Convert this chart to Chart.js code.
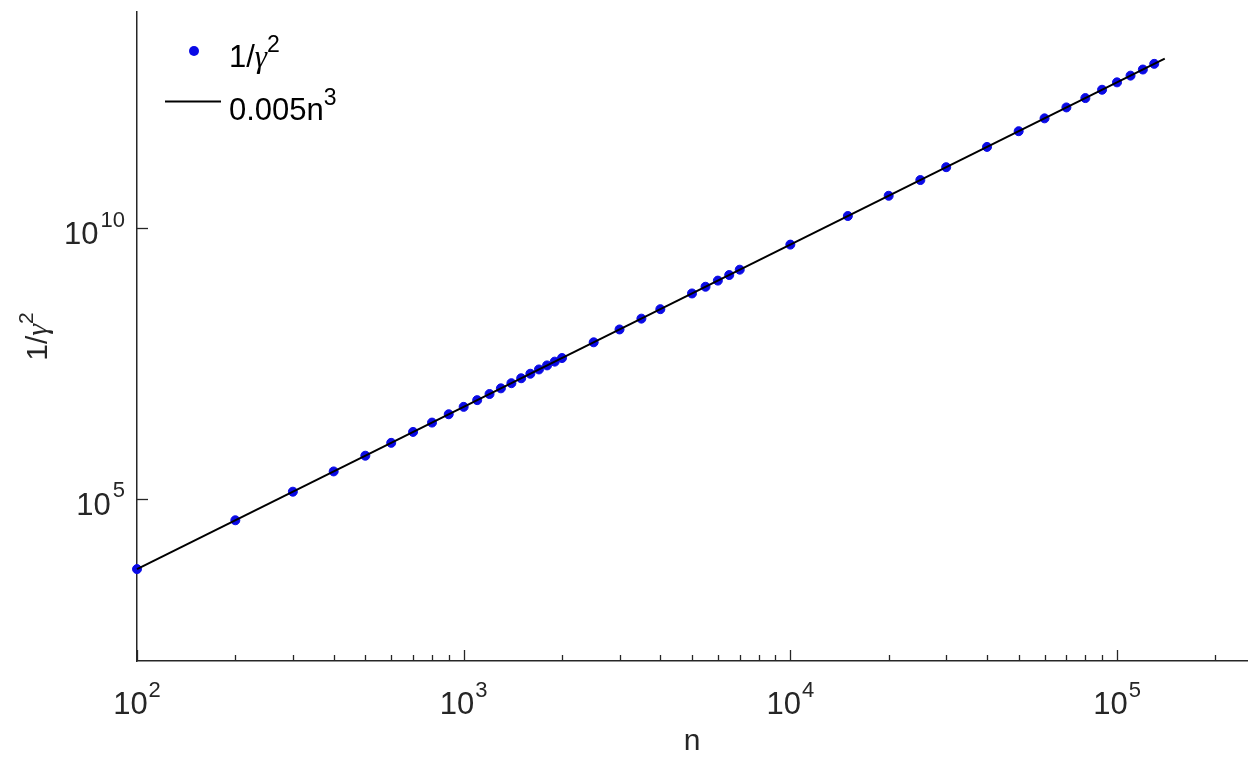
<!DOCTYPE html>
<html>
<head>
<meta charset="utf-8">
<script src="https://cdn.jsdelivr.net/npm/chart.js@4"></script>
<style>
  html, body { margin: 0; padding: 0; background: #ffffff; }
  canvas { display: block; }
</style>
</head>
<body>
<canvas id="c" width="1255" height="760"></canvas>
<script>
// ---- data ----
const nValues = [100, 200, 300, 400, 500, 600, 700, 800, 900, 1000,
  1100, 1200, 1300, 1400, 1500, 1600, 1700, 1800, 1900, 2000,
  2500, 3000, 3500, 4000, 5000, 5500, 6000, 6500, 7000, 10000,
  15000, 20000, 25000, 30000, 40000, 50000, 60000, 70000, 80000, 90000,
  100000, 110000, 120000, 130000];
const invGamma2 = [5.0e3, 4.0e4, 1.35e5, 3.2e5, 6.25e5, 1.08e6, 1.72e6, 2.56e6, 3.65e6, 5.0e6,
  6.66e6, 8.64e6, 1.10e7, 1.37e7, 1.69e7, 2.05e7, 2.46e7, 2.92e7, 3.43e7, 4.0e7,
  7.81e7, 1.35e8, 2.14e8, 3.2e8, 6.25e8, 8.32e8, 1.08e9, 1.37e9, 1.72e9, 5.0e9,
  1.69e10, 4.0e10, 7.81e10, 1.35e11, 3.2e11, 6.25e11, 1.08e12, 1.72e12, 2.56e12, 3.65e12,
  5.0e12, 6.66e12, 8.64e12, 1.10e13];
const fitN = [100, 140000];
const fitY = [5.0e3, 1.372e13];

const xTickValues = [1e2, 1e3, 1e4, 1e5];
const xTickExp = ['2', '3', '4', '5'];
const yTickValues = [1e5, 1e10];
const yTickExp = ['5', '10'];
const xAxisTitle = 'n';
const seriesLabel1 = ['1/', 'γ', '2'];
const seriesLabel2 = ['0.005n', '', '3'];

const TEXT = '#262626';
const FONT = '"Liberation Sans", Arial, Helvetica, sans-serif';
const GREEK = 'italic "Liberation Serif", "DejaVu Serif", serif';

// draw [base, greek, sup] pieces
function drawRich(ctx, parts, x, y, align, bSize, sSize, rise, gap) {
  const pieces = [
    { t: parts[0], f: bSize + 'px ' + FONT, dy: 0, g: 0 },
    { t: parts[1], f: GREEK.replace('italic', 'italic ' + bSize + 'px'), dy: 0, g: 0 },
    { t: parts[2], f: sSize + 'px ' + FONT, dy: -rise, g: gap || 0 }
  ].filter(p => p.t);
  let total = 0;
  pieces.forEach(p => { ctx.font = p.f; p.w = ctx.measureText(p.t).width; total += p.w + p.g; });
  let x0 = x;
  if (align === 'center') x0 = x - total / 2;
  else if (align === 'right') x0 = x - total;
  ctx.textAlign = 'left';
  ctx.textBaseline = 'alphabetic';
  pieces.forEach(p => { x0 += p.g; ctx.font = p.f; ctx.fillText(p.t, x0, y + p.dy); x0 += p.w; });
}

const decor = {
  id: 'decor',
  afterDraw(chart) {
    const ctx = chart.ctx;
    const xs = chart.scales.x, ys = chart.scales.y;
    const area = chart.chartArea;
    ctx.save();
    ctx.strokeStyle = TEXT;
    ctx.fillStyle = TEXT;
    ctx.lineWidth = 1.3;
    // x ticks (inward), major and minor
    for (let e = 2; e <= 5; e++) {
      for (let m = 1; m <= 9; m++) {
        const v = m * Math.pow(10, e);
        if (v > xs.max) continue;
        const px = Math.round(xs.getPixelForValue(v)) + 0.5;
        const len = m === 1 ? 11 : 6;
        ctx.beginPath();
        ctx.moveTo(px, area.bottom);
        ctx.lineTo(px, area.bottom - len);
        ctx.stroke();
      }
    }
    // y ticks (inward)
    yTickValues.forEach(v => {
      const py = Math.round(ys.getPixelForValue(v)) + 0.5;
      ctx.beginPath();
      ctx.moveTo(area.left, py);
      ctx.lineTo(area.left + 11, py);
      ctx.stroke();
    });
    // x tick labels
    xTickValues.forEach((v, i) => {
      const px = xs.getPixelForValue(v);
      drawRich(ctx, ['10', '', xTickExp[i]], px, area.bottom + 53, 'center', 31, 22, 17.5, 1);
    });
    // y tick labels
    yTickValues.forEach((v, i) => {
      const py = ys.getPixelForValue(v);
      drawRich(ctx, ['10', '', yTickExp[i]], area.left - 12, py + 16, 'right', 31, 22, 17.5, 2);
    });
    // x axis label
    ctx.font = '30px ' + FONT;
    ctx.textAlign = 'center';
    ctx.textBaseline = 'alphabetic';
    ctx.fillText(xAxisTitle, (area.left + area.right) / 2, 750);
    // y axis label (rotated)
    ctx.save();
    ctx.translate(47, (area.top + area.bottom) / 2);
    ctx.rotate(-Math.PI / 2);
    drawRich(ctx, seriesLabel1, 0, 0, 'center', 30, 21, 14, 0);
    ctx.restore();
    // legend
    ctx.fillStyle = '#0a0ae6';
    ctx.beginPath();
    ctx.arc(194, 51, 5, 0, Math.PI * 2);
    ctx.fill();
    ctx.strokeStyle = '#000000';
    ctx.lineWidth = 2;
    ctx.beginPath();
    ctx.moveTo(165, 101.5);
    ctx.lineTo(221, 101.5);
    ctx.stroke();
    ctx.fillStyle = '#000000';
    drawRich(ctx, seriesLabel1, 229, 67, 'left', 31, 23, 15, 0);
    drawRich(ctx, seriesLabel2, 229, 120, 'left', 31, 23, 15, 0);
    ctx.restore();
  }
};

new Chart(document.getElementById('c'), {
  type: 'scatter',
  data: {
    datasets: [
      {
        label: '1/γ^2',
        data: nValues.map((n, i) => ({ x: n, y: invGamma2[i] })),
        backgroundColor: '#0a0ae6',
        borderColor: '#0a0ae6',
        borderWidth: 1,
        pointRadius: 4.5,
        pointHoverRadius: 4.5,
        showLine: false,
        order: 1,
        clip: 12
      },
      {
        label: '0.005n^3',
        data: fitN.map((n, i) => ({ x: n, y: fitY[i] })),
        borderColor: '#000000',
        borderWidth: 2,
        pointRadius: 0,
        showLine: true,
        fill: false,
        order: 0,
        clip: 12
      }
    ]
  },
  options: {
    responsive: false,
    animation: false,
    devicePixelRatio: 1,
    layout: { padding: { left: 137, right: 8, top: 12, bottom: 99 } },
    plugins: { legend: { display: false }, tooltip: { enabled: false }, title: { display: false } },
    scales: {
      x: {
        type: 'logarithmic',
        min: 100,
        max: 2.5e5,
        grid: { display: false, drawTicks: false, tickLength: 0 },
        ticks: { display: false },
        border: { display: true, color: TEXT, width: 1.5 },
        afterFit: (s) => { s.height = 0; }
      },
      y: {
        type: 'logarithmic',
        min: 1e2,
        max: 1e14,
        grid: { display: false, drawTicks: false, tickLength: 0 },
        ticks: { display: false },
        border: { display: true, color: TEXT, width: 1.5 },
        afterFit: (s) => { s.width = 0; }
      }
    }
  },
  plugins: [decor]
});
</script>
</body>
</html>
